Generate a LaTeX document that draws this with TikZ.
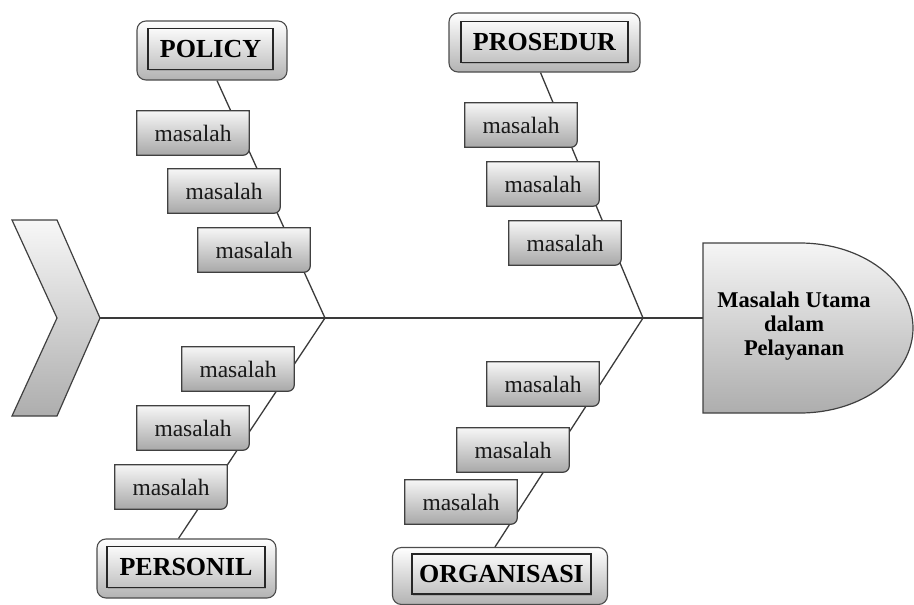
\documentclass[tikz,border=0pt]{standalone}
\usepackage{fontspec}
\setmainfont{Liberation Serif}
\usetikzlibrary{calc,shadows}
\pgfdeclarelayer{bg}
\pgfdeclarelayer{shapes}
\pgfsetlayers{bg,shapes,main}
\definecolor{lineC}{HTML}{3A3A3A}
\definecolor{boxTop}{HTML}{F6F6F6}
\definecolor{boxBot}{HTML}{A8A8A8}
\newcommand\masfont{\fontsize{23.5}{26}\selectfont}
\newcommand\lblfont{\fontsize{26}{28}\selectfont\bfseries}
\newcommand\headfont{\fontsize{22.5}{24}\selectfont\bfseries}
\tikzset{
  bone/.style={draw=lineC, line width=1.3pt},
  mbox/.style={minimum width=112pt, minimum height=44pt, inner sep=0pt, font=\masfont, text=black!90},
  mshape/.style={top color=boxTop, bottom color=boxBot, draw=black!75, line width=1.2pt},
  lblout/.style={rounded corners=9pt, draw=black!70, line width=1.1pt, top color=white, bottom color=black!30, minimum height=59pt, inner sep=0pt},
  lblin/.style={draw=black!85, line width=1.3pt, top color=black!2, bottom color=black!24, minimum height=41pt, inner sep=0pt, font=\lblfont, drop shadow={shadow xshift=1pt, shadow yshift=-1.5pt, opacity=0.4}},
  headshape/.style={top color=black!4, bottom color=black!32, draw=black!75, line width=1.2pt},
  chevshape/.style={top color=black!3, bottom color=black!32, draw=black!75, line width=1.2pt},
}
\begin{document}
\begin{tikzpicture}[x=1pt, y=-1pt]
\useasboundingbox (0,0) rectangle (914,605);

% junctions and spine ends
\coordinate (j1) at (325,318);
\coordinate (j2) at (643,318);
\coordinate (tip) at (100,318);
\coordinate (headL) at (703,318);

% masalah boxes
\node[mbox] (a1) at (193,133) {masalah\hspace{8pt}};
\node[mbox] (a2) at (224,191) {masalah\hspace{8pt}};
\node[mbox] (a3) at (254,250) {masalah\hspace{8pt}};
\node[mbox] (b1) at (521,125) {masalah\hspace{8pt}};
\node[mbox] (b2) at (543,184) {masalah\hspace{8pt}};
\node[mbox] (b3) at (565,243) {masalah\hspace{8pt}};
\node[mbox] (c1) at (238,369) {masalah\hspace{8pt}};
\node[mbox] (c2) at (193,428) {masalah\hspace{8pt}};
\node[mbox] (c3) at (171,487) {masalah\hspace{8pt}};
\node[mbox] (d1) at (543,384) {masalah\hspace{8pt}};
\node[mbox] (d2) at (513,450) {masalah\hspace{8pt}};
\node[mbox] (d3) at (461,502) {masalah\hspace{8pt}};

% category labels
\node[lblout, minimum width=150pt] (policyF) at (212,50.5) {};
\node[lblin, minimum width=125pt] (policy) at (210.5,49) {POLICY};
\node[lblout, minimum width=191pt] (prosedurF) at (544.5,42.5) {};
\node[lblin, minimum width=167pt] (prosedur) at (544.5,42) {PROSEDUR};
\node[lblout, minimum width=179pt] (personilF) at (186.5,568.5) {};
\node[lblin, minimum width=158pt] (personil) at (186,567) {PERSONIL};
\node[lblout, minimum width=215pt, minimum height=57pt] (organisasiF) at (500,576) {};
\node[lblin, minimum width=179pt, minimum height=40pt] (organisasi) at (501.5,574) {ORGANISASI};

% head text
\node[font=\headfont, align=center, text=black] (head) at (794,326) {Masalah Utama\\dalam\\Pelayanan};

% bones
\begin{pgfonlayer}{bg}
  \draw[bone, line width=1.5pt] (tip) -- (headL);
  \draw[bone] ([xshift=5pt]policyF.south) -- (j1);
  \draw[bone] ([xshift=-4pt]prosedurF.south) -- (j2);
  \draw[bone] ([xshift=-8pt]personilF.north) -- (j1);
  \draw[bone] ([xshift=-5pt]organisasiF.north) -- (j2);
\end{pgfonlayer}

% shapes
\begin{pgfonlayer}{shapes}
  \path[chevshape] (12,220) -- (57,220) -- (tip) -- (57,416) -- (12,416) -- (57,318) -- cycle;
  \path[headshape] (703,243) -- (800,243) arc[start angle=90, end angle=-90, x radius=113pt, y radius=85pt] -- (703,413) -- cycle;
  \foreach \n in {a1,a2,a3,b1,b2,b3,c1,c2,c3,d1,d2,d3} {
    \path[mshape] (\n.north west) -- (\n.north east) -- ([yshift=6pt]\n.south east)
      arc[start angle=0, end angle=-90, radius=6pt] -- (\n.south west) -- cycle;
  }
\end{pgfonlayer}
\end{tikzpicture}
\end{document}
